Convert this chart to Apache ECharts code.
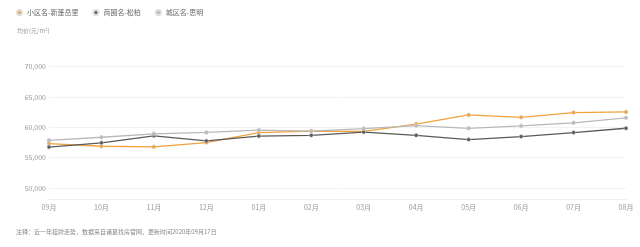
<!DOCTYPE html>
<html><head><meta charset="utf-8">
<script src="https://cdn.jsdelivr.net/npm/echarts@6/dist/echarts.min.js"></script>
<style>html,body{margin:0;padding:0;background:#fff}#c{width:640px;height:247px}</style>
</head><body><div id="c"></div>
<script>
const categories = ['09月','10月','11月','12月','01月','02月','03月','04月','05月','06月','07月','08月'];
const seriesNames = ['小区名-新蓬岳里','商圈名-松柏','城区名-思明'];
const xiaoqu = [57320,56880,56780,57480,59130,59380,59340,60530,62040,61630,62420,62530];
const shangquan = [56740,57440,58590,57760,58550,58670,59210,58670,57980,58470,59130,59840];
const chengqu = [57860,58360,58920,59160,59540,59380,59790,60280,59820,60230,60730,61550];
const yMin = 48200, yMax = 70000;
const yAxisName = '均价(元/m²)';
const note = '注释：近一年挂牌走势，数据来自诸葛找房官网，更新时间2020年09月17日';
const colors = ['#f0a23c','#5a5a5a','#b9b9b9'];
const font = '"Noto Sans CJK SC","Noto Sans",sans-serif';

const chart = echarts.init(document.getElementById('c'));
const values = [xiaoqu, shangquan, chengqu];
chart.setOption({
  animation:false,
  textStyle:{fontFamily:font},
  color:colors,
  legend:{left:16,top:9,padding:0,itemWidth:5,itemHeight:5,itemGap:14,icon:'circle',
    textStyle:{fontSize:7,color:'#666',fontFamily:font},
    data:seriesNames},
  grid:{left:49,right:14,top:66.5,bottom:48},
  graphic:[{type:'text',left:16,top:228.5,style:{text:note,fontSize:6,fill:'#888',fontFamily:font}}],
  xAxis:{type:'category',data:categories,boundaryGap:false,
    axisTick:{show:false},axisLine:{lineStyle:{color:'#eeeeee'}},
    axisLabel:{color:'#999',fontSize:7,margin:5,fontFamily:font}},
  yAxis:{type:'value',min:yMin,max:yMax,splitNumber:5,
    name:yAxisName,nameLocation:'end',nameGap:33,
    nameTextStyle:{fontSize:6,color:'#999',align:'left',padding:[0,0,0,-32],fontFamily:font},
    axisLine:{show:false},axisTick:{show:false},
    splitLine:{lineStyle:{color:'#f2f2f2'}},
    axisLabel:{color:'#999',fontSize:7,margin:3,fontFamily:font,
      formatter:v=> (v%5000===0 ? v.toLocaleString('en-US') : '')}},
  series:values.map((d,i)=>({name:seriesNames[i],type:'line',data:d,
    symbol:'circle',symbolSize:4,showSymbol:true,
    lineStyle:{width:1.3,color:colors[i]},
    itemStyle:{color:colors[i],borderColor:'#ddd',borderWidth:0.5}}))
});
</script></body></html>
